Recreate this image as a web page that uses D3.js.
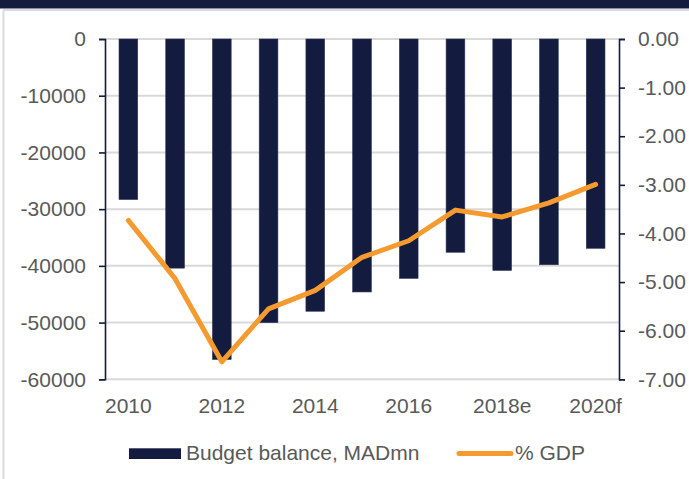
<!DOCTYPE html>
<html>
<head>
<meta charset="utf-8">
<script src="https://cdn.jsdelivr.net/npm/d3@7"></script>
<style>
  html, body { margin: 0; padding: 0; background: #ffffff; }
  svg { display: block; }
  text { font-family: "Liberation Sans", Arial, sans-serif; fill: #595959; }
</style>
</head>
<body>
<svg id="chart" width="689" height="479"></svg>
<script>
const categories = ["2010","2011","2012","2013","2014","2015","2016","2017","2018e","2019f","2020f"];
const shownLabels = ["2010","2012","2014","2016","2018e","2020f"];
const budgetBalance = [-28300,-40400,-56500,-50000,-48000,-44600,-42200,-37600,-40800,-39800,-36900];
const pctGDP = [-3.73,-4.93,-6.64,-5.55,-5.17,-4.49,-4.15,-3.52,-3.66,-3.37,-2.99];
const leftTicks = [0,-10000,-20000,-30000,-40000,-50000,-60000];
const rightTicks = [0,-1,-2,-3,-4,-5,-6,-7];
const seriesNames = ["Budget balance, MADmn", "% GDP"];

const navy = "#131b3f";
const orange = "#f59a2f";
const grid = "#d9d9d9";
const fs = 21;
const fontFam = '"Liberation Sans", Arial, sans-serif';

const svg = d3.select("#chart");

// frame
svg.append("rect").attr("x",0).attr("y",0).attr("width",689).attr("height",8.5).attr("fill",navy);
svg.append("line").attr("x1",3).attr("x2",689).attr("y1",10).attr("y2",10).attr("stroke","#dcdcdc").attr("stroke-width",2);
svg.append("line").attr("x1",3.5).attr("x2",3.5).attr("y1",10).attr("y2",479).attr("stroke","#dcdcdc").attr("stroke-width",2);

const plotLeft = 105, plotRight = 619, plotTop = 39, plotBottom = 379.3;

const x = d3.scaleBand().domain(categories).range([plotLeft, plotRight]).paddingInner(0.6).paddingOuter(0.3);
const yL = d3.scaleLinear().domain([-60000, 0]).range([plotBottom, plotTop]);
const yR = d3.scaleLinear().domain([-7, 0]).range([plotBottom, plotTop]);

// gridlines
svg.append("g").selectAll("line").data(leftTicks).join("line")
  .attr("x1", plotLeft).attr("x2", plotRight)
  .attr("y1", d => yL(d)).attr("y2", d => yL(d))
  .attr("stroke", grid).attr("stroke-width", 2);

// bars
svg.append("g").selectAll("rect").data(budgetBalance).join("rect")
  .attr("x", (d,i) => x(categories[i]))
  .attr("width", x.bandwidth())
  .attr("y", yL(0))
  .attr("height", d => yL(d) - yL(0))
  .attr("fill", navy)
  .attr("stroke", "#2c3557").attr("stroke-width", 0.6);

// left axis
const axL = d3.axisLeft(yL).tickValues(leftTicks).tickSize(6).tickPadding(13).tickFormat(d => String(d));
const gL = svg.append("g").attr("transform", `translate(${plotLeft},0)`).call(axL);
gL.select(".domain").attr("stroke", navy).attr("stroke-width", 1.6);
gL.selectAll(".tick line").attr("stroke", navy).attr("stroke-width", 1.6);
gL.selectAll("text").attr("font-size", fs).attr("fill", "#595959").style("font-family", fontFam);

// right axis
const axR = d3.axisRight(yR).tickValues(rightTicks).tickSize(6).tickPadding(13)
  .tickFormat(d => (d === 0 ? 0 : d).toFixed(2));
const gR = svg.append("g").attr("transform", `translate(${plotRight},0)`).call(axR);
gR.select(".domain").attr("stroke", navy).attr("stroke-width", 1.6);
gR.selectAll(".tick line").attr("stroke", navy).attr("stroke-width", 1.6);
gR.selectAll("text").attr("font-size", fs).attr("fill", "#595959").style("font-family", fontFam);

// x labels
const axX = d3.axisBottom(x).tickSize(0).tickPadding(0)
  .tickFormat(d => shownLabels.includes(d) ? d : "");
const gX = svg.append("g").attr("transform", `translate(0,${plotBottom})`).call(axX);
gX.select(".domain").remove();
gX.selectAll("text").attr("font-size", fs).attr("fill", "#595959")
  .attr("y", 33.5).attr("dy", 0).style("font-family", fontFam);

// line
const line = d3.line()
  .x((d,i) => x(categories[i]) + x.bandwidth()/2)
  .y(d => yR(d));
svg.append("path").datum(pctGDP)
  .attr("d", line)
  .attr("fill", "none").attr("stroke", orange).attr("stroke-width", 5)
  .attr("stroke-linecap", "round").attr("stroke-linejoin", "round");

// legend
const lg = svg.append("g");
lg.append("rect").attr("x",129).attr("y",448.3).attr("width",52).attr("height",10.7).attr("fill",navy);
lg.append("text").attr("x",186).attr("y",460).attr("font-size",fs).text(seriesNames[0]);
lg.append("line").attr("x1",459).attr("x2",511).attr("y1",453.5).attr("y2",453.5)
  .attr("stroke",orange).attr("stroke-width",5).attr("stroke-linecap","round");
lg.append("text").attr("x",515).attr("y",460).attr("font-size",fs).text(seriesNames[1]);
</script>
</body>
</html>
